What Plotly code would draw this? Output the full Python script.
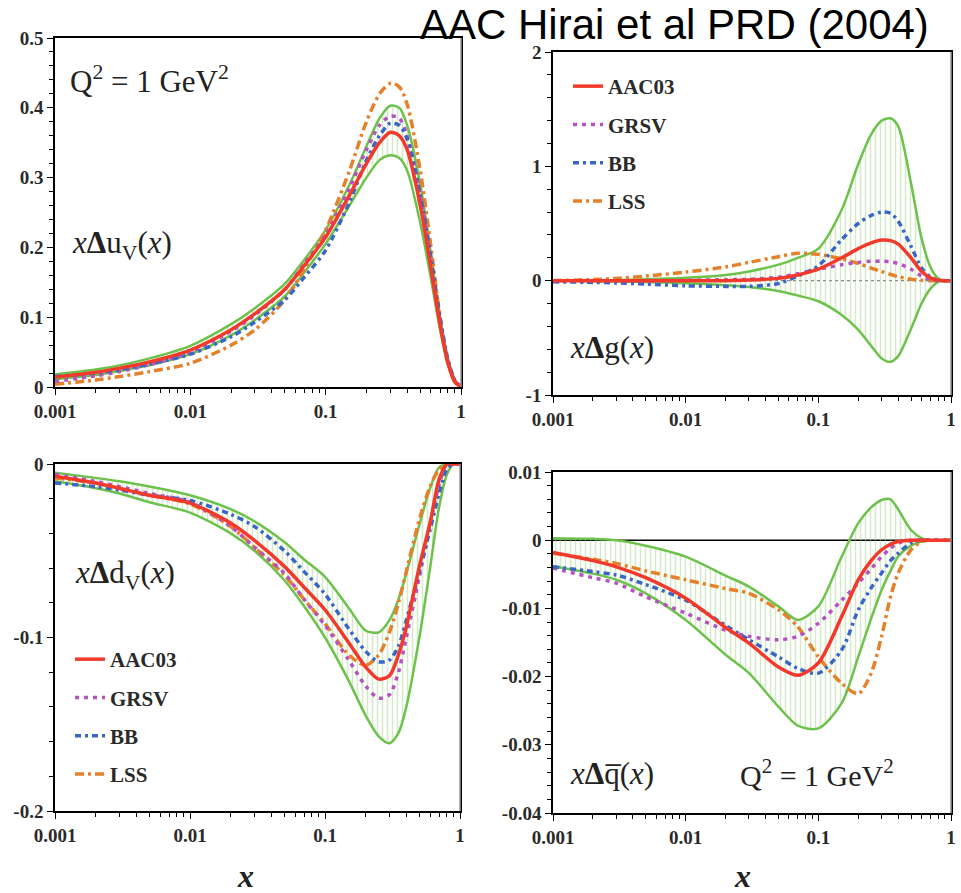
import plotly.graph_objects as go

# ---------------- data ----------------
X = [0.001, 0.002, 0.003, 0.005, 0.01, 0.02, 0.03, 0.05, 0.07, 0.1, 0.15, 0.2,
     0.25, 0.3, 0.35, 0.4, 0.5, 0.6, 0.7, 0.8, 0.9, 1.0]
MODELS = ["AAC03", "GRSV", "BB", "LSS"]

# x Delta u_v
UV_AAC03 = [0.014, 0.021, 0.027, 0.036, 0.053, 0.082, 0.105, 0.14, 0.175, 0.215, 0.275, 0.32,
            0.35, 0.365, 0.36, 0.34, 0.26, 0.17, 0.09, 0.035, 0.008, 0]
UV_UP = [0.018, 0.025, 0.031, 0.041, 0.059, 0.09, 0.113, 0.148, 0.183, 0.225, 0.29, 0.345,
         0.385, 0.403, 0.4, 0.375, 0.29, 0.19, 0.1, 0.04, 0.01, 0]
UV_LO = [0.011, 0.017, 0.023, 0.031, 0.047, 0.074, 0.096, 0.13, 0.165, 0.205, 0.26, 0.3,
         0.325, 0.332, 0.328, 0.31, 0.235, 0.155, 0.082, 0.032, 0.007, 0]
UV_GRSV = [0.008, 0.016, 0.022, 0.032, 0.05, 0.08, 0.103, 0.14, 0.177, 0.218, 0.285, 0.34,
           0.375, 0.388, 0.385, 0.36, 0.275, 0.18, 0.095, 0.037, 0.009, 0]
UV_BB = [0.015, 0.02, 0.025, 0.033, 0.047, 0.072, 0.093, 0.125, 0.158, 0.196, 0.265, 0.325,
         0.36, 0.378, 0.375, 0.355, 0.275, 0.185, 0.1, 0.04, 0.01, 0]
UV_LSS = [0.004, 0.01, 0.015, 0.022, 0.034, 0.06, 0.082, 0.125, 0.17, 0.225, 0.31, 0.38,
          0.42, 0.435, 0.43, 0.405, 0.31, 0.2, 0.1, 0.035, 0.007, 0]

# x Delta g
G_AAC03 = [0, 0, 0, 0, 0, 0, 0.005, 0.02, 0.05, 0.1, 0.2, 0.28, 0.33, 0.355, 0.35, 0.32,
           0.2, 0.08, 0.025, 0.005, 0, 0]
G_UP = [0, 0.003, 0.006, 0.012, 0.025, 0.05, 0.08, 0.14, 0.2, 0.28, 0.62, 1.02, 1.28, 1.4,
        1.42, 1.35, 0.85, 0.37, 0.12, 0.02, 0, 0]
G_LO = [0, -0.003, -0.006, -0.012, -0.022, -0.04, -0.055, -0.09, -0.13, -0.18, -0.3, -0.43,
        -0.57, -0.68, -0.71, -0.66, -0.42, -0.2, -0.07, -0.01, 0, 0]
G_GRSV = [0, 0, 0, 0, 0.003, 0.008, 0.012, 0.03, 0.06, 0.1, 0.14, 0.16, 0.17, 0.17, 0.165,
          0.15, 0.1, 0.04, 0.01, 0, 0, 0]
G_BB = [-0.01, -0.015, -0.02, -0.03, -0.045, -0.05, -0.05, -0.025, 0.04, 0.13, 0.36, 0.5,
        0.57, 0.6, 0.59, 0.52, 0.3, 0.11, 0.03, 0.005, 0, 0]
G_LSS = [0, 0.01, 0.02, 0.04, 0.075, 0.12, 0.16, 0.21, 0.24, 0.23, 0.19, 0.15, 0.11, 0.08,
         0.055, 0.035, 0.012, 0.003, 0, 0, 0, 0]

# x Delta d_v
DV_AAC03 = [-0.007, -0.011, -0.014, -0.018, -0.0225, -0.034, -0.044, -0.059, -0.071, -0.084,
            -0.103, -0.117, -0.124, -0.122, -0.11, -0.094, -0.059, -0.034, -0.009, 0, 0, 0]
DV_UP = [-0.005, -0.008, -0.01, -0.013, -0.018, -0.026, -0.033, -0.045, -0.055, -0.065,
         -0.083, -0.096, -0.097, -0.09, -0.078, -0.063, -0.035, -0.014, -0.002, 0, 0, 0]
DV_LO = [-0.01, -0.014, -0.017, -0.022, -0.028, -0.04, -0.05, -0.067, -0.082, -0.1, -0.125,
         -0.145, -0.157, -0.161, -0.155, -0.14, -0.1, -0.06, -0.025, -0.006, 0, 0]
DV_GRSV = [-0.006, -0.01, -0.013, -0.017, -0.022, -0.036, -0.048, -0.063, -0.078, -0.093,
           -0.113, -0.128, -0.135, -0.133, -0.12, -0.1, -0.065, -0.035, -0.012, 0, 0, 0]
DV_BB = [-0.011, -0.013, -0.015, -0.018, -0.021, -0.029, -0.036, -0.05, -0.062, -0.075,
         -0.095, -0.108, -0.114, -0.113, -0.105, -0.09, -0.062, -0.038, -0.017, -0.003, 0, 0]
DV_LSS = [-0.008, -0.011, -0.014, -0.018, -0.023, -0.036, -0.048, -0.064, -0.078, -0.092,
          -0.11, -0.116, -0.11, -0.097, -0.08, -0.062, -0.032, -0.013, -0.003, 0, 0, 0]

# x Delta qbar
QB_AAC03 = [-0.0018, -0.003, -0.0039, -0.0055, -0.0085, -0.0128, -0.0151, -0.0186, -0.0198,
            -0.018, -0.0112, -0.0058, -0.003, -0.0014, -0.0006, -0.0002, 0, 0, 0, 0, 0, 0]
QB_UP = [0.0003, 0.0002, 0, -0.0008, -0.0024, -0.0052, -0.0068, -0.0097, -0.0117, -0.0097,
         -0.0024, 0.0025, 0.0048, 0.0059, 0.006, 0.0045, 0.0015, 0.0003, 0, 0, 0, 0]
QB_LO = [-0.0038, -0.0049, -0.0058, -0.0078, -0.0117, -0.0168, -0.0195, -0.0244, -0.0272,
         -0.0276, -0.0239, -0.0171, -0.0115, -0.0073, -0.0045, -0.0024, -0.0008, -0.0002,
         0, 0, 0, 0]
QB_GRSV = [-0.0041, -0.0055, -0.0063, -0.0083, -0.0107, -0.0132, -0.0141, -0.0146, -0.0141,
           -0.0122, -0.0088, -0.0063, -0.0042, -0.0024, -0.0012, -0.0004, 0, 0, 0, 0, 0, 0]
QB_BB = [-0.0039, -0.0046, -0.0051, -0.0065, -0.0088, -0.0125, -0.0146, -0.0171, -0.0188,
         -0.0195, -0.0161, -0.0102, -0.007, -0.0048, -0.003, -0.0019, -0.0004, 0, 0, 0, 0, 0]
QB_LSS = [-0.0019, -0.0028, -0.0034, -0.0045, -0.0058, -0.0071, -0.0078, -0.0102, -0.0127,
          -0.0171, -0.021, -0.0225, -0.0195, -0.0141, -0.0083, -0.0048, -0.0014, -0.0002,
          0, 0, 0, 0]

X_TICKS = [0.001, 0.01, 0.1, 1]
X_TICK_TEXT = ["0.001", "0.01", "0.1", "1"]

# ---------------- styles ----------------
COLORS = {"AAC03": "#f2392b", "GRSV": "#b652c2", "BB": "#3a67c6", "LSS": "#e5802b"}
DASHES = {"AAC03": "solid", "GRSV": "4px,5px", "BB": "6px,4px,3px,4px", "LSS": "9px,4px,3px,4px"}
GREEN = "#6cc24a"
SERIF = "Liberation Serif"

panels = [
    dict(ax="", data=dict(AAC03=UV_AAC03, GRSV=UV_GRSV, BB=UV_BB, LSS=UV_LSS), up=UV_UP, lo=UV_LO, legend=None),
    dict(ax="2", data=dict(AAC03=G_AAC03, GRSV=G_GRSV, BB=G_BB, LSS=G_LSS), up=G_UP, lo=G_LO, legend="legend"),
    dict(ax="3", data=dict(AAC03=DV_AAC03, GRSV=DV_GRSV, BB=DV_BB, LSS=DV_LSS), up=DV_UP, lo=DV_LO, legend="legend2"),
    dict(ax="4", data=dict(AAC03=QB_AAC03, GRSV=QB_GRSV, BB=QB_BB, LSS=QB_LSS), up=QB_UP, lo=QB_LO, legend=None),
]

fig = go.Figure()
for p in panels:
    xa, ya = "x" + p["ax"], "y" + p["ax"]
    fig.add_trace(go.Scatter(x=X, y=p["lo"], xaxis=xa, yaxis=ya, mode="lines",
                             line=dict(color=GREEN, width=2.5, shape="spline", smoothing=0.8),
                             showlegend=False, hoverinfo="skip"))
    fig.add_trace(go.Scatter(x=X, y=p["up"], xaxis=xa, yaxis=ya, mode="lines", fill="tonexty",
                             fillcolor="rgba(225,243,218,0.35)",
                             fillpattern=dict(shape="|", fgcolor="rgba(150,210,120,0.85)",
                                              bgcolor="rgba(0,0,0,0)", size=5, solidity=0.3,
                                              fillmode="overlay"),
                             line=dict(color=GREEN, width=2.5, shape="spline", smoothing=0.8),
                             showlegend=False, hoverinfo="skip"))
    for m in ["LSS", "GRSV", "BB", "AAC03"]:
        if p["legend"]:
            kw = dict(legend=p["legend"], showlegend=True, legendgroup=m + p["ax"],
                      legendrank=MODELS.index(m))
        else:
            kw = dict(showlegend=False)
        fig.add_trace(go.Scatter(x=X, y=p["data"][m], xaxis=xa, yaxis=ya, mode="lines", name=m,
                                 line=dict(color=COLORS[m], width=3.5, dash=DASHES[m],
                                           shape="spline", smoothing=0.8), **kw))

W, H = 961, 893
def px_x(a, b):
    return [a / W, b / W]
def px_y(top, bottom):
    return [1 - bottom / H, 1 - top / H]

domains = {
    "": (px_x(55, 461), px_y(38, 387)),
    "2": (px_x(553, 951), px_y(52, 395)),
    "3": (px_x(55, 460), px_y(464, 811)),
    "4": (px_x(553, 951), px_y(472, 813)),
}
yconf = {
    "": dict(range=[0, 0.5], tickvals=[0, 0.1, 0.2, 0.3, 0.4, 0.5],
             ticktext=["0", "0.1", "0.2", "0.3", "0.4", "0.5"], minor=0.02),
    "2": dict(range=[-1, 2], tickvals=[-1, 0, 1, 2], ticktext=["-1", "0", "1", "2"], minor=0.2),
    "3": dict(range=[-0.2, 0], tickvals=[-0.2, -0.1, 0], ticktext=["-0.2", "-0.1", "0"], minor=0.02),
    "4": dict(range=[-0.04, 0.01], tickvals=[-0.04, -0.03, -0.02, -0.01, 0, 0.01],
              ticktext=["-0.04", "-0.03", "-0.02", "-0.01", "0", "0.01"], minor=0.002),
}
minor_x = [k * 10 ** e for e in (-3, -2, -1) for k in range(2, 10)]
tickfont = dict(family=SERIF, size=19, color="#2a2a2a", weight="bold")

layout = dict(width=W, height=H, margin=dict(l=0, r=0, t=0, b=0, pad=0, autoexpand=False),
              paper_bgcolor="white", plot_bgcolor="white")
for k, (xd, yd) in domains.items():
    yc = yconf[k]
    layout["xaxis" + k] = dict(domain=xd, type="log", range=[-3, 0], anchor="y" + k,
                               tickvals=X_TICKS, ticktext=X_TICK_TEXT, ticks="outside",
                               ticklen=6, tickcolor="black", showgrid=False, zeroline=False,
                               showline=True, linecolor="black", linewidth=1.5, mirror=True,
                               tickfont=tickfont, automargin=False,
                               minor=dict(tickvals=minor_x, ticks="outside", ticklen=4,
                                          tickcolor="black", showgrid=False))
    layout["yaxis" + k] = dict(domain=yd, range=yc["range"], anchor="x" + k,
                               tickvals=yc["tickvals"], ticktext=yc["ticktext"], ticks="outside",
                               ticklen=6, tickcolor="black", showgrid=False, zeroline=False,
                               showline=True, linecolor="black", linewidth=1.5, mirror=True,
                               tickfont=tickfont, automargin=False,
                               minor=dict(dtick=yc["minor"], tick0=0, ticks="outside", ticklen=4,
                                          tickcolor="black", showgrid=False))

legend_common = dict(font=dict(family=SERIF, size=21, color="#2a2a2a", weight="bold"),
                     bgcolor="rgba(0,0,0,0)",
                     traceorder="grouped", tracegroupgap=8, itemwidth=30,
                     xanchor="left", yanchor="top")
layout["legend"] = dict(x=568 / W, y=1 - 66 / H, **legend_common)
layout["legend2"] = dict(x=70 / W, y=1 - 639 / H, **legend_common)

fig.update_layout(**layout)

# zero lines and right borders
fig.add_shape(type="line", xref="x2 domain", yref="y2", x0=0, x1=1, y0=0, y1=0,
              line=dict(color="#888", width=1.2, dash="dot"), layer="below")
fig.add_shape(type="line", xref="x4 domain", yref="y4", x0=0, x1=1, y0=0, y1=0,
              line=dict(color="black", width=1.5), layer="below")
for k in ["", "2", "3", "4"]:
    fig.add_shape(type="line", xref=f"x{k} domain", yref=f"y{k} domain", x0=1, x1=1, y0=0, y1=1,
                  line=dict(color="#999", width=1.5))

def ann(text, xpx, ypx, xanchor="left", size=29):
    fig.add_annotation(text=text, xref="paper", yref="paper", x=xpx / W, y=1 - ypx / H,
                       xanchor=xanchor, yanchor="middle", showarrow=False,
                       font=dict(family=SERIF, size=size, color="#222"))

ann("Q<sup>2</sup> = 1 GeV<sup>2</sup>", 68, 80, size=31)
ann("<i>x</i><b>Δ</b>u<sub>V</sub>(<i>x</i>)", 70, 245, size=31)
ann("<i>x</i><b>Δ</b>g(<i>x</i>)", 568, 348, size=31)
ann("<i>x</i><b>Δ</b>d<sub>V</sub>(<i>x</i>)", 73, 575, size=31)
ann("<i>x</i><b>Δ</b>q\u0305(<i>x</i>)", 568, 773, size=31)
ann("Q<sup>2</sup> = 1 GeV<sup>2</sup>", 738, 773, size=30)
ann("<i><b>x</b></i>", 245, 876, xanchor="center", size=32)
ann("<i><b>x</b></i>", 742, 876, xanchor="center", size=32)
fig.add_annotation(text="AAC Hirai et al PRD (2004)", xref="paper", yref="paper",
                   x=674 / W, y=1 - 24 / H, xanchor="center", yanchor="middle", showarrow=False,
                   font=dict(family="Liberation Sans", size=42, color="black"))

fig.write_html("out.html")
